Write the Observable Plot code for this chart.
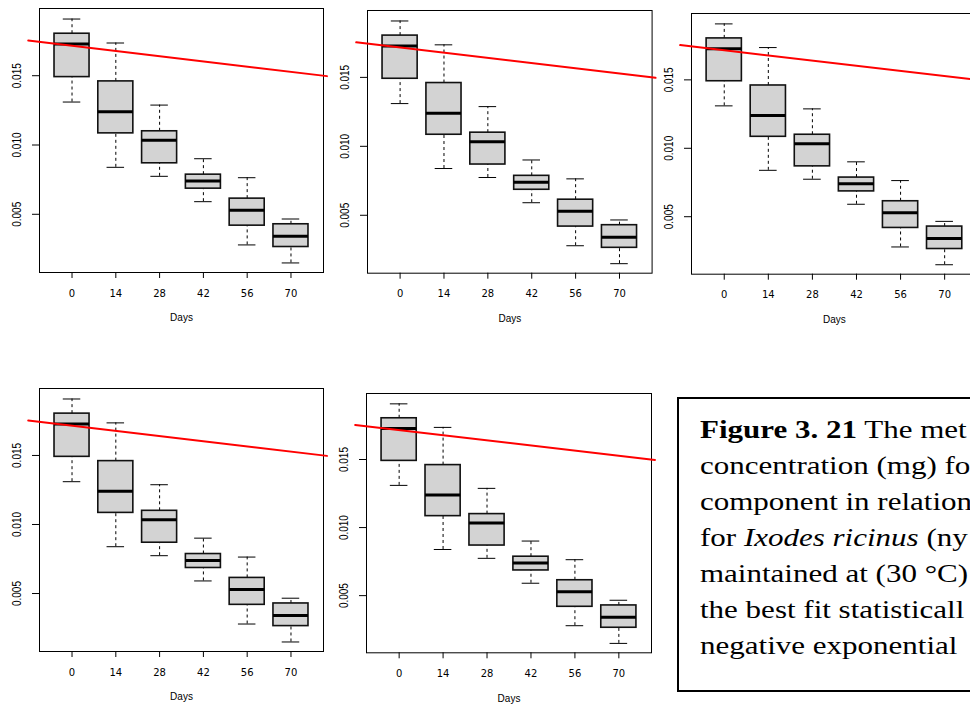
<!DOCTYPE html>
<html><head><meta charset="utf-8">
<script src="https://cdn.jsdelivr.net/npm/d3@7"></script>
<script src="https://cdn.jsdelivr.net/npm/@observablehq/plot@0.6"></script>
<style>
html,body{margin:0;padding:0;background:#fff;}
#root{position:relative;width:970px;height:704px;overflow:hidden;background:#fff;}
#caption{position:absolute;left:677.3px;top:396.7px;width:400px;height:295.6px;border:2px solid #000;box-sizing:border-box;}
#caption .txt{position:absolute;left:21.2px;top:13px;font-family:"Liberation Serif","Times New Roman",serif;font-size:25px;line-height:36.1px;white-space:nowrap;transform:scaleX(1.24);transform-origin:0 0;color:#000;}
</style></head><body><div id="root"></div>
<script>
// ---- data ----
const days = [0, 14, 28, 42, 56, 70];
const whiskerLow  = [0.01310, 0.00839, 0.00774, 0.00591, 0.00279, 0.00149];
const quartile1   = [0.01490, 0.01084, 0.00868, 0.00685, 0.00418, 0.00264];
const medians     = [0.01728, 0.01240, 0.01034, 0.00740, 0.00529, 0.00341];
const quartile3   = [0.01803, 0.01459, 0.01099, 0.00786, 0.00613, 0.00428];
const whiskerHigh = [0.01909, 0.01736, 0.01288, 0.00901, 0.00764, 0.00466];
const fitDays   = [-14, 81.5];
const fitValues = [0.01754, 0.01497];
const yTicks = [0.005, 0.010, 0.015];
const xLabel = "Days";
const captionLines = [
  "<b>Figure 3. 21</b> The met",
  "concentration (mg) fo",
  "component in relation",
  "for <i>Ixodes ricinus</i> (ny",
  "maintained at (30 °C)",
  "the best fit statisticall",
  "negative exponential"
];

const boxes = days.map((day, i) => ({day, lo: whiskerLow[i], q1: quartile1[i], median: medians[i], q3: quartile3[i], hi: whiskerHigh[i]}));
const fit = fitDays.map((day, i) => ({day, value: fitValues[i]}));

// frame rectangles of the five panels (layout)
const panels = [
  {left: 38.7,  top: 8,    right: 322.7, bottom: 272},
  {left: 366.6, top: 10,   right: 651.2, bottom: 272.7},
  {left: 690.6, top: 12.5, right: 976.5, bottom: 273.2},
  {left: 38.7,  top: 388.3,right: 322.7, bottom: 651.3},
  {left: 365.7, top: 392.5,right: 650.7, bottom: 651.8}
];

const BW = 5.6, CW = 2.8; // half box width, half cap width (days)
const FONT = '"Liberation Sans", Arial, Helvetica, sans-serif';
const WIDE = '"DejaVu Sans", sans-serif';

function stretch(svg, selector, sx, sy) {
  svg.querySelectorAll(selector).forEach(t => {
    const x = t.getAttribute("x"), y = t.getAttribute("y");
    let tr = t.getAttribute("transform") || "";
    if (x != null || y != null) {
      tr = `translate(${x || 0},${y || 0}) ` + tr;
      t.removeAttribute("x"); t.removeAttribute("y");
    }
    t.setAttribute("transform", tr + ` scale(${sx},${sy})`);
  });
}

const root = document.getElementById("root");
const mL = 45, mR = 12, mT = 10, mB = 58;

for (const p of panels) {
  const svg = Plot.plot({
    width: (p.right - p.left) + mL + mR,
    height: (p.bottom - p.top) + mT + mB,
    marginLeft: mL, marginRight: mR, marginTop: mT, marginBottom: mB,
    style: {fontFamily: FONT, background: "transparent", overflow: "visible"},
    x: {domain: [-10.4, 80.4]},
    y: {domain: [0.0008, 0.01985]},
    marks: [
      Plot.ruleX(boxes, {x: "day", y1: "q3", y2: "hi", stroke: "#000", strokeWidth: 1, strokeDasharray: "3,3"}),
      Plot.ruleX(boxes, {x: "day", y1: "lo", y2: "q1", stroke: "#000", strokeWidth: 1, strokeDasharray: "3,3"}),
      Plot.ruleY(boxes, {y: "hi", x1: d => d.day - CW, x2: d => d.day + CW, stroke: "#000", strokeWidth: 1}),
      Plot.ruleY(boxes, {y: "lo", x1: d => d.day - CW, x2: d => d.day + CW, stroke: "#000", strokeWidth: 1}),
      Plot.rect(boxes, {x1: d => d.day - BW, x2: d => d.day + BW, y1: "q1", y2: "q3", fill: "#d3d3d3", stroke: "#111", strokeWidth: 1.6}),
      Plot.ruleY(boxes, {y: "median", x1: d => d.day - BW, x2: d => d.day + BW, stroke: "#000", strokeWidth: 3}),
      Plot.frame({stroke: "#000", strokeWidth: 1}),
      Plot.axisY({ticks: yTicks, tickFormat: d3.format(".3f"), tickSize: 7, tickRotate: -90, tickPadding: 12, fontSize: 10, label: null, stroke: "#000"}),
      Plot.axisX({ticks: days, tickFormat: d => String(d), tickSize: 6, tickPadding: 11, fontSize: 10, fontFamily: WIDE, label: null, stroke: "#000"}),
      Plot.text([xLabel], {frameAnchor: "bottom", dy: 45.7, lineAnchor: "middle", fontSize: 10, fill: "#000", ariaLabel: "xlabel"}),
      Plot.line(fit, {x: "day", y: "value", stroke: "#ff0000", strokeWidth: 2})
    ]
  });
  svg.style.position = "absolute";
  svg.style.left = (p.left - mL) + "px";
  svg.style.top = (p.top - mT) + "px";
  svg.style.maxWidth = "none";
  svg.style.background = "transparent";
  svg.style.overflow = "visible";
  stretch(svg, 'g[aria-label="xlabel"] text', 1.23, 1);
  stretch(svg, 'g[aria-label="y-axis tick label"] text', 1, 1.3);
  root.appendChild(svg);
}

const cap = document.createElement("div");
cap.id = "caption";
const txt = document.createElement("div");
txt.className = "txt";
txt.innerHTML = captionLines.join("<br>");
cap.appendChild(txt);
root.appendChild(cap);
</script></body></html>
